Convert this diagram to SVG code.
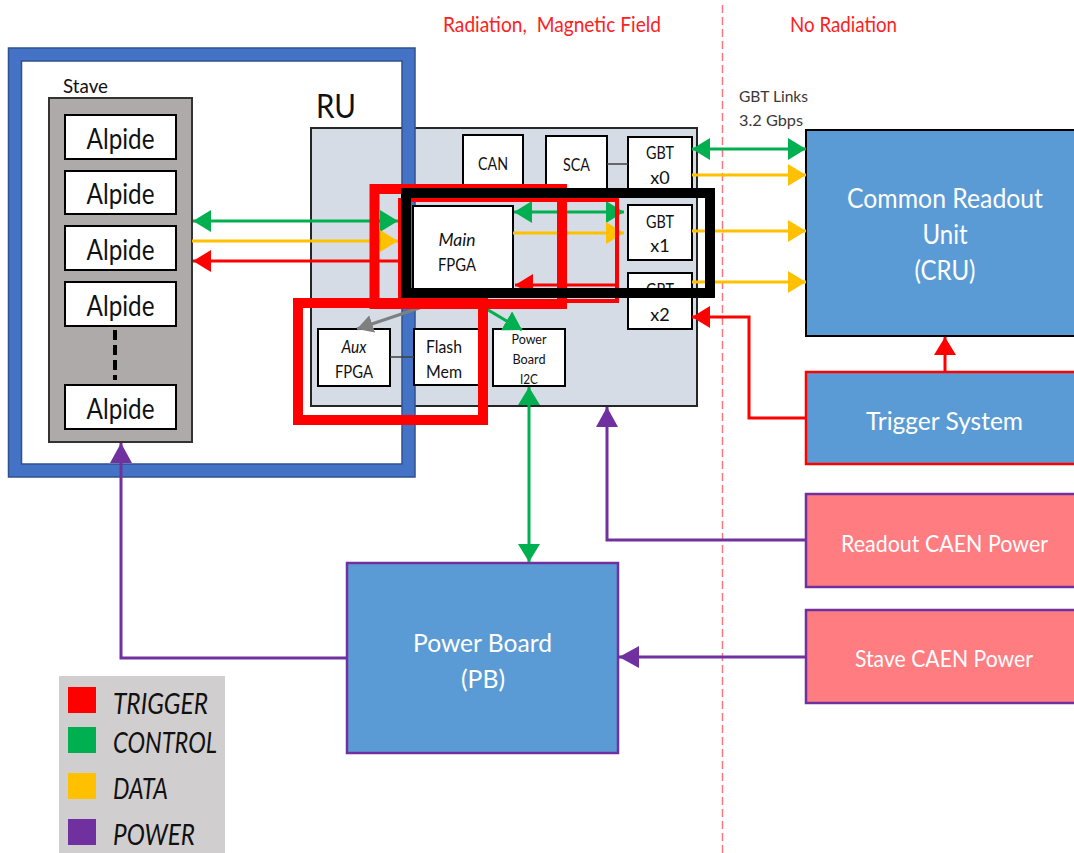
<svg xmlns="http://www.w3.org/2000/svg" width="1074" height="853" viewBox="0 0 1074 853">
<defs>
<style>
text { font-family: Lato, "Open Sans", "Liberation Sans", sans-serif; fill:#111; }
.wb { fill:#fff; stroke:#000; stroke-width:2; }
.bt { font-size:18px; text-anchor:middle; }
.al { font-size:28px; text-anchor:middle; }
.wt { fill:#fff; text-anchor:middle; }
.g { stroke:#00B050; stroke-width:3; fill:none; }
.y { stroke:#FFC000; stroke-width:3; fill:none; }
.r { stroke:#FF0000; stroke-width:3; fill:none; }
.p { stroke:#7030A0; stroke-width:3; fill:none; }
.gr { stroke:#7F7F7F; stroke-width:3; fill:none; }
.thin { stroke:#404040; stroke-width:1.5; }
.ov { fill:none; }
.leg { font-size:28px; font-style:italic; }
</style>
<marker id="ag" markerUnits="userSpaceOnUse" markerWidth="19" markerHeight="22" refX="18" refY="11" orient="auto-start-reverse"><path d="M0,0 L18,11 L0,22 Z" fill="#00B050"/></marker>
<marker id="ay" markerUnits="userSpaceOnUse" markerWidth="19" markerHeight="22" refX="18" refY="11" orient="auto-start-reverse"><path d="M0,0 L18,11 L0,22 Z" fill="#FFC000"/></marker>
<marker id="ar" markerUnits="userSpaceOnUse" markerWidth="19" markerHeight="22" refX="18" refY="11" orient="auto-start-reverse"><path d="M0,0 L18,11 L0,22 Z" fill="#FF0000"/></marker>
<marker id="ap" markerUnits="userSpaceOnUse" markerWidth="21" markerHeight="22" refX="20" refY="11" orient="auto-start-reverse"><path d="M0,0 L20,11 L0,22 Z" fill="#7030A0"/></marker>
<marker id="agr" markerUnits="userSpaceOnUse" markerWidth="17" markerHeight="18" refX="16" refY="9" orient="auto"><path d="M0,0 L16,9 L0,18 Z" fill="#7F7F7F"/></marker>
</defs>
<rect width="1074" height="853" fill="#fff"/>

<g id="header">
<line x1="722.5" y1="5" x2="722.5" y2="853" stroke="#F8797D" stroke-width="1.5" stroke-dasharray="8 4"/>
<text x="443" y="32" textLength="218" lengthAdjust="spacingAndGlyphs" style="font-size:21px;fill:#FF2020;white-space:pre">Radiation,  Magnetic Field</text>
<text x="790" y="32" textLength="107" lengthAdjust="spacingAndGlyphs" style="font-size:21px;fill:#FF2020">No Radiation</text>
</g>

<g id="ru">
<rect x="311" y="128" width="386" height="278" fill="#D6DCE5" stroke="#262626" stroke-width="2"/>
<text x="316" y="118" textLength="40" lengthAdjust="spacingAndGlyphs" style="font-size:33px">RU</text>
</g>

<g id="frame">
<rect x="15" y="54.5" width="393.5" height="416" fill="none" stroke="#4472C4" stroke-width="13"/>
<rect x="8.5" y="48" width="406.5" height="429" fill="none" stroke="#2F528F" stroke-width="1.5"/>
<rect x="21.5" y="61" width="380.5" height="403" fill="none" stroke="#2F528F" stroke-width="1.5"/>
</g>

<g id="stave">
<text x="63" y="93" textLength="45" lengthAdjust="spacingAndGlyphs" style="font-size:20px">Stave</text>
<rect x="49" y="98" width="143" height="344" fill="#AEAAAA" stroke="#333" stroke-width="2"/>
<g id="alpide1"><rect class="wb" x="65" y="115" width="111" height="44"/><text class="al" x="120.5" y="149" textLength="68" lengthAdjust="spacingAndGlyphs">Alpide</text></g>
<g id="alpide2"><rect class="wb" x="65" y="171" width="111" height="43"/><text class="al" x="120.5" y="204" textLength="68" lengthAdjust="spacingAndGlyphs">Alpide</text></g>
<g id="alpide3"><rect class="wb" x="65" y="226" width="111" height="44"/><text class="al" x="120.5" y="260" textLength="68" lengthAdjust="spacingAndGlyphs">Alpide</text></g>
<g id="alpide4"><rect class="wb" x="65" y="282" width="111" height="44"/><text class="al" x="120.5" y="316" textLength="68" lengthAdjust="spacingAndGlyphs">Alpide</text></g>
<line x1="115" y1="330" x2="115" y2="380" stroke="#000" stroke-width="4" stroke-dasharray="10 5"/>
<g id="alpide5"><rect class="wb" x="65" y="385" width="111" height="44"/><text class="al" x="120.5" y="419" textLength="68" lengthAdjust="spacingAndGlyphs">Alpide</text></g>
</g>

<g id="can"><rect class="wb" x="463" y="135" width="60" height="55"/><text class="bt" x="493" y="170" textLength="30" lengthAdjust="spacingAndGlyphs">CAN</text></g>
<g id="sca"><rect class="wb" x="546" y="136" width="61" height="54"/><text class="bt" x="576.5" y="171" textLength="27" lengthAdjust="spacingAndGlyphs">SCA</text></g>
<g id="gbt0"><rect class="wb" x="628" y="137" width="64" height="55"/><text class="bt" x="660" y="159" textLength="28" lengthAdjust="spacingAndGlyphs">GBT</text><text class="bt" x="660" y="184">x0</text></g>
<g id="gbt1"><rect class="wb" x="628" y="205" width="64" height="55"/><text class="bt" x="660" y="228" textLength="28" lengthAdjust="spacingAndGlyphs">GBT</text><text class="bt" x="660" y="252">x1</text></g>
<g id="gbt2"><rect class="wb" x="628" y="273" width="64" height="56"/><text class="bt" x="660" y="296" textLength="28" lengthAdjust="spacingAndGlyphs">GBT</text><text class="bt" x="660" y="321">x2</text></g>
<g id="mainfpga"><rect class="wb" x="413" y="206" width="100" height="86"/><text class="bt" x="457" y="246" style="font-style:italic" textLength="37" lengthAdjust="spacingAndGlyphs">Main</text><text class="bt" x="457" y="271" textLength="38" lengthAdjust="spacingAndGlyphs">FPGA</text></g>
<g id="auxfpga"><rect class="wb" x="318" y="329" width="72" height="57"/><text class="bt" x="354" y="353" style="font-style:italic" textLength="25" lengthAdjust="spacingAndGlyphs">Aux</text><text class="bt" x="354" y="378" textLength="38" lengthAdjust="spacingAndGlyphs">FPGA</text></g>
<g id="flash"><rect class="wb" x="414" y="329" width="65" height="56"/><text class="bt" x="444" y="353" textLength="36" lengthAdjust="spacingAndGlyphs">Flash</text><text class="bt" x="444" y="378" textLength="36" lengthAdjust="spacingAndGlyphs">Mem</text></g>
<g id="pbi2c"><rect class="wb" x="493" y="329" width="72" height="57"/><text x="529" y="344" style="font-size:13.5px;text-anchor:middle" textLength="35" lengthAdjust="spacingAndGlyphs">Power</text><text x="529" y="364" style="font-size:13.5px;text-anchor:middle" textLength="33" lengthAdjust="spacingAndGlyphs">Board</text><text x="529" y="384" style="font-size:13.5px;text-anchor:middle" textLength="18" lengthAdjust="spacingAndGlyphs">I2C</text></g>

<g id="cru"><rect x="806" y="130" width="280" height="206" fill="#5B9BD5" stroke="#000" stroke-width="2"/>
<text class="wt" x="945" y="208" style="font-size:26px" textLength="196" lengthAdjust="spacingAndGlyphs">Common Readout</text><text class="wt" x="945" y="244" style="font-size:26px" textLength="45" lengthAdjust="spacingAndGlyphs">Unit</text><text class="wt" x="945" y="280" style="font-size:26px" textLength="61" lengthAdjust="spacingAndGlyphs">(CRU)</text></g>
<g id="trigger"><rect x="806" y="372" width="280" height="92" fill="#5B9BD5" stroke="#FF0000" stroke-width="2.5"/>
<text class="wt" x="944.5" y="430" style="font-size:25px" textLength="157" lengthAdjust="spacingAndGlyphs">Trigger System</text></g>
<g id="readoutcaen"><rect x="806" y="494" width="280" height="93" fill="#FF7C80" stroke="#7030A0" stroke-width="2.5"/>
<text class="wt" x="944.5" y="552" style="font-size:23.5px" textLength="207" lengthAdjust="spacingAndGlyphs">Readout CAEN Power</text></g>
<g id="stavecaen"><rect x="806" y="610" width="280" height="93" fill="#FF7C80" stroke="#7030A0" stroke-width="2.5"/>
<text class="wt" x="944" y="667" style="font-size:23.5px" textLength="178" lengthAdjust="spacingAndGlyphs">Stave CAEN Power</text></g>
<g id="pb"><rect x="347" y="563" width="271" height="190" fill="#5B9BD5" stroke="#7030A0" stroke-width="2.5"/>
<text class="wt" x="482.5" y="652" style="font-size:25px" textLength="139" lengthAdjust="spacingAndGlyphs">Power Board</text><text class="wt" x="483" y="688" style="font-size:25px" textLength="44" lengthAdjust="spacingAndGlyphs">(PB)</text></g>

<g id="gbtlabel">
<text x="739" y="102" style="font-size:16px;fill:#3B3838" textLength="69" lengthAdjust="spacingAndGlyphs">GBT Links</text>
<text x="739" y="126" style="font-size:16px;fill:#3B3838" textLength="64" lengthAdjust="spacingAndGlyphs">3.2 Gbps</text>
</g>

<g id="connectors">
<line class="thin" x1="607" y1="164" x2="628" y2="164"/>
<line class="thin" x1="390" y1="357" x2="414" y2="357"/>
<line class="g" x1="193" y1="221" x2="398" y2="221" marker-start="url(#ag)" marker-end="url(#ag)"/>
<line class="y" x1="192" y1="241" x2="398" y2="241" marker-end="url(#ay)"/>
<line class="r" x1="398" y1="261" x2="193" y2="261" marker-end="url(#ar)"/>
<line class="g" x1="514" y1="212" x2="624" y2="212" marker-start="url(#ag)" marker-end="url(#ag)"/>
<line class="y" x1="513" y1="233" x2="624" y2="233" marker-end="url(#ay)"/>
<line class="r" x1="617" y1="285" x2="515" y2="285" marker-end="url(#ar)"/>
<line class="g" x1="692" y1="149" x2="806" y2="149" marker-start="url(#ag)" marker-end="url(#ag)"/>
<line class="y" x1="692" y1="175" x2="806" y2="175" marker-end="url(#ay)"/>
<line class="y" x1="692" y1="231" x2="806" y2="231" marker-end="url(#ay)"/>
<line class="y" x1="692" y1="282" x2="806" y2="282" marker-end="url(#ay)"/>
<path class="r" d="M806,418 H749 V317 H692" marker-end="url(#ar)"/>
<line class="r" x1="945" y1="372" x2="945" y2="337" marker-end="url(#ar)"/>
<path class="p" d="M806,540 H607 V407" marker-end="url(#ap)"/>
<line class="p" x1="806" y1="657" x2="619" y2="657" marker-end="url(#ap)"/>
<path class="p" d="M347,658 H121 V443" marker-end="url(#ap)"/>
<line class="g" x1="529" y1="387" x2="529" y2="562" marker-start="url(#ag)" marker-end="url(#ag)"/>
<line class="gr" x1="440" y1="301" x2="357" y2="329" marker-end="url(#agr)"/>
<line class="g" x1="468" y1="298" x2="522" y2="330" marker-end="url(#ag)"/>
</g>

<g id="highlights">
<rect class="ov" x="374.5" y="189" width="187.5" height="115" stroke="#FF0000" stroke-width="10"/>
<rect class="ov" x="298" y="303" width="185" height="117" stroke="#FF0000" stroke-width="10"/>
<rect class="ov" x="400" y="200" width="217" height="101" stroke="#FF0000" stroke-width="4"/>
<rect class="ov" x="406" y="193" width="304" height="100" stroke="#000" stroke-width="10"/>
</g>

<g id="legend">
<rect x="59" y="676" width="166" height="177" fill="#D0CECE"/>
<rect x="68" y="687" width="28" height="26" fill="#FF0000"/>
<rect x="68" y="727" width="28" height="26" fill="#00B050"/>
<rect x="68" y="773" width="28" height="26" fill="#FFC000"/>
<rect x="68" y="819" width="28" height="26" fill="#7030A0"/>
<text class="leg" x="113" y="714" textLength="95" lengthAdjust="spacingAndGlyphs">TRIGGER</text>
<text class="leg" x="113" y="753" textLength="104" lengthAdjust="spacingAndGlyphs">CONTROL</text>
<text class="leg" x="113" y="799" textLength="55" lengthAdjust="spacingAndGlyphs">DATA</text>
<text class="leg" x="113" y="845" textLength="82" lengthAdjust="spacingAndGlyphs">POWER</text>
</g>
</svg>
